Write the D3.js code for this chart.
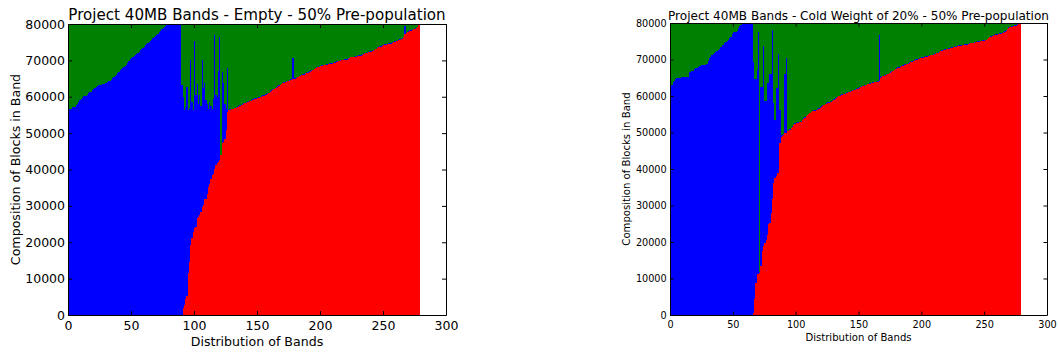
<!DOCTYPE html>
<html><head><meta charset="utf-8">
<script src="https://cdn.jsdelivr.net/npm/d3@7"></script>
<style>body{margin:0;background:#fff}svg{display:block}</style>
</head><body><svg id="c" width="1058" height="354"></svg>
<script>
const BAND_CAPACITY = 81920;
const xTicks = [0, 50, 100, 150, 200, 250, 300];
const yTicks = [0, 10000, 20000, 30000, 40000, 50000, 60000, 70000, 80000];
const leftTitle = "Project 40MB Bands - Empty - 50% Pre-population";
const rightTitle = "Project 40MB Bands - Cold Weight of 20% - 50% Pre-population";
const xLabel = "Distribution of Bands";
const yLabel = "Composition of Blocks in Band";
const seriesKeys = ["red", "blue", "green"];
const seriesColors = ["#ff0000", "#0000ff", "#008000"];

const leftRed = [
100,100,100,100,100,100,100,100,100,100,
100,100,100,100,100,100,100,100,100,100,
100,100,100,100,100,100,100,100,100,100,
100,100,100,100,100,100,100,100,100,100,
100,100,100,100,100,100,100,100,100,100,
100,100,100,100,100,100,100,100,100,100,
100,100,100,100,100,100,100,100,100,100,
100,100,100,100,100,100,100,100,100,100,
100,100,100,100,100,100,100,100,100,100,
100,
1900,2800,4500,5100,11500,14700,19300,21100,22900,23800,
24300,26600,27000,27500,28400,29800,30200,32000,32000,33400,
35200,36100,37500,38400,38900,40200,41100,41800,42000,42500,
43900,47300,47500,48500,50800,55800,56300,
56400,56500,56500,56600,56800,57000,57100,57300,57500,57600,
57800,58000,58200,58400,58500,58600,58800,58900,59100,59200,
59400,59500,59600,59700,59900,60000,60200,60300,60500,60600,
60800,61000,61300,61600,61900,62100,62300,62500,62800,63000,
63200,63400,63700,63900,64000,64100,64300,64400,64600,64700,
64800,64900,65000,65200,65400,65600,65800,65900,66000,66100,
66300,66500,66600,66800,66900,67100,67300,67600,67800,67900,
68100,68300,68400,68500,68600,68700,68700,68800,68900,69000,
69000,69100,69200,69300,69400,69600,69700,69800,69900,70000,
70000,70100,70200,70200,70400,70600,70800,70800,70900,70900,
71000,71100,71200,71300,71300,71500,71700,71800,72000,72100,
72200,72300,72400,72500,72600,72800,73100,73400,73600,73700,
73800,74000,74200,74300,74300,74400,74500,74500,74600,74800,
75000,75100,75300,75400,75500,75700,75800,75900,76300,77200,
77500,77700,77900,78100,78200,78400,78500,78700,78800,79100,79700
];

const leftBlue = [
56400,56400,56400,57000,57000,57000,57500,58000,58500,59000,
59200,59500,60000,60100,60100,60300,61000,61200,61300,61700,
62000,62300,62600,62800,63000,63100,63200,63400,63500,63700,
63800,64000,64100,64300,64500,65000,65300,65700,66000,66300,
66700,67200,67600,67800,68000,68400,68700,69200,69700,70200,
70600,70800,71000,71300,71600,71800,72300,72800,73000,73300,
73600,74000,74300,74600,75000,75300,75600,76000,76300,76600,
76800,77200,77600,78000,78500,78900,79100,79400,79600,79800,
79900,80000,80200,81820,81820,81820,81820,81820,81820,81820,
63000,58000,53600,52600,57500,44900,42300,50700,37400,33500,
51400,36200,36900,31000,33000,29100,40200,32300,31800,27000,
24600,21300,22400,20000,18100,20600,36900,19400,18200,25000,
34000,0,19400,16200,9500,5700,12200,
150,150,150,150,150,150,150,150,150,150,
150,150,150,150,150,150,150,150,150,150,
150,150,150,150,150,150,150,150,150,150,
150,150,150,150,150,150,150,150,150,150,
150,150,150,150,150,150,150,150,150,150,
150,5900,150,150,150,150,150,150,150,150,
150,150,150,150,150,150,150,150,150,150,
150,150,150,150,150,150,150,150,150,150,
150,150,150,150,150,150,150,150,150,150,
150,150,150,150,150,150,150,150,150,150,
150,150,150,150,150,150,150,150,150,150,
150,150,150,150,150,150,150,150,150,150,
150,150,150,150,150,150,150,150,150,150,
150,150,150,150,150,150,150,150,150,150,
2200,150,150,150,150,150,150,150,150,150,
150,150
];

const rightRed = [
100,100,100,100,100,100,100,100,100,100,
100,100,100,100,100,100,100,100,100,100,
100,100,100,100,100,100,100,100,100,100,
100,100,100,100,100,100,100,100,100,100,
100,100,100,100,100,100,100,100,100,100,
100,100,100,100,100,100,100,100,100,100,
100,100,100,100,100,100,
500,4500,8800,11100,11200,11500,13300,17500,18800,19700,
20500,22000,25000,25200,27900,31700,36300,37500,38200,38800,
39000,47100,48900,49100,49400,49800,50000,50300,
50300,50800,51200,51600,52000,52400,52500,52600,52700,52800,
53000,53300,53700,54100,54400,54700,55000,55300,55600,55800,
55900,56000,56100,56300,56500,56700,57000,57300,57500,57700,
57900,58100,58200,58300,58400,58600,58900,59200,59500,59700,
59900,60100,60300,60400,60500,60600,60700,60900,61000,61200,
61300,61500,61600,61700,61800,62000,62200,62400,62500,62700,
62800,62900,63000,63200,63300,63400,63500,63600,63700,63800,
63800,63900,64100,65000,65200,65400,65500,65700,65800,66000,
66200,66400,66600,66800,67100,67300,67500,67700,67800,68000,
68200,68300,68500,68600,68700,68900,69100,69300,69400,69500,
69700,69900,70000,70100,70200,70300,70400,70500,70600,70700,
70800,70900,71000,71100,71200,71300,71400,71500,71700,71800,
72000,72200,72400,72500,72600,72700,72800,72900,73000,73100,
73200,73300,73400,73500,73600,73700,73700,73800,73900,73900,
74000,74000,74100,74200,74300,74400,74500,74500,74600,74700,
74800,74900,74900,75000,75100,75100,75200,75300,75500,75800,
76100,76300,76400,76500,76600,76700,76800,76900,77000,77100,
77200,77300,77600,77900,78300,78700,78800,78900,79000,79100,
79200,79300,79500,79700,79900
];

const rightBlue = [
62000,63000,63800,64000,64600,64700,64800,64900,64900,65000,
65000,65100,65100,65200,65200,66400,66600,66700,66800,67200,
67500,67700,67900,68100,68200,68300,68300,68300,68300,68600,
69500,70300,70700,71000,71300,71600,72000,72200,72500,72900,
73300,73800,74000,74300,74700,74900,75300,75700,76200,76800,
77300,77400,77500,77700,78500,79200,79400,79600,79800,79900,
80000,81820,81820,81820,81820,81820,
68700,60100,55800,56100,66200,300,49200,45000,55000,38900,
38100,41500,38500,40700,38000,46500,21800,15800,24000,23400,
32500,9200,300,200,200,16100,20300,200,
150,150,150,150,150,150,150,150,150,150,
150,150,150,150,150,150,150,150,150,150,
150,150,150,150,150,150,150,150,150,150,
150,150,150,150,150,150,150,150,150,150,
150,150,150,150,150,150,150,150,150,150,
150,150,150,150,150,150,150,150,150,150,
150,150,150,150,150,150,150,150,150,150,
150,150,12500,150,150,150,150,150,150,150,
150,150,150,150,150,150,150,150,150,150,
150,150,150,150,150,150,150,150,150,150,
150,150,150,150,150,150,150,150,150,150,
150,150,150,150,150,150,150,150,150,150,
150,150,150,150,150,150,150,150,150,150,
150,150,150,150,150,150,150,150,150,150,
150,150,150,150,150,150,150,150,150,150,
150,150,150,150,150,150,150,150,150,150,
150,150,150,150,150,150,150,150,150,150,
150,150,150,150,150,150,150,150,150,150,
150,150,150,150,150
];

const FONT = "'DejaVu Sans', sans-serif";
const svg = d3.select("#c");

function drawPanel(red, blue, title, box, f) {
  const x = d3.scaleLinear().domain([0, 300]).range([box.left, box.right]);
  const y = d3.scaleLinear().domain([0, 80000]).range([box.bottom, box.top]);
  const rows = red.map((r, i) => ({
    band: i, red: r, blue: blue[i],
    green: Math.max(0, BAND_CAPACITY - r - blue[i])
  }));
  const stacked = d3.stack().keys(seriesKeys)(rows);
  const clipId = "clip" + box.left;
  svg.append("clipPath").attr("id", clipId).append("rect")
    .attr("x", box.left).attr("y", box.top)
    .attr("width", box.right - box.left).attr("height", box.bottom - box.top);
  const g = svg.append("g").attr("clip-path", `url(#${clipId})`).attr("shape-rendering", "crispEdges");
  stacked.forEach((s, k) => {
    g.append("g").attr("fill", seriesColors[k]).selectAll("rect").data(s).join("rect")
      .attr("x", d => x(d.data.band))
      .attr("width", d => x(d.data.band + 1) - x(d.data.band))
      .attr("y", d => y(d[1]))
      .attr("height", d => Math.max(0, y(d[0]) - y(d[1])));
  });

  const fmt = d3.format("d");
  const style = sel => {
    sel.attr("font-family", FONT).attr("font-size", f.tick).attr("color", "#000");
    sel.selectAll("text").attr("fill", "#000");
  };
  svg.append("g").attr("transform", `translate(0,${box.bottom})`)
    .call(d3.axisBottom(x).tickValues(xTicks).tickFormat(fmt).tickSize(-f.tl).tickSizeOuter(0).tickPadding(f.xpad)).call(style);
  svg.append("g").attr("transform", `translate(0,${box.top})`)
    .call(d3.axisTop(x).tickValues(xTicks).tickFormat("").tickSize(-f.tl).tickSizeOuter(0)).call(style);
  svg.append("g").attr("transform", `translate(${box.left},0)`)
    .call(d3.axisLeft(y).tickValues(yTicks).tickFormat(fmt).tickSize(-f.tl).tickSizeOuter(0).tickPadding(f.ypad)).call(style);
  svg.append("g").attr("transform", `translate(${box.right},0)`)
    .call(d3.axisRight(y).tickValues(yTicks).tickFormat("").tickSize(-f.tl).tickSizeOuter(0)).call(style);

  const cx = (box.left + box.right) / 2;
  svg.append("text").attr("x", cx).attr("y", f.titleY).attr("text-anchor", "middle")
    .attr("font-family", FONT).attr("font-size", f.title).text(title);
  svg.append("text").attr("x", cx).attr("y", f.xLabelY).attr("text-anchor", "middle")
    .attr("font-family", FONT).attr("font-size", f.label).text(xLabel);
  svg.append("text").attr("transform", `translate(${f.yLabelX},${(box.top + box.bottom) / 2}) rotate(-90)`)
    .attr("text-anchor", "middle").attr("font-family", FONT).attr("font-size", f.label).text(yLabel);
}

drawPanel(leftRed, leftBlue, leftTitle,
  {left: 68, right: 446, top: 24, bottom: 315},
  {tick: 12.5, label: 12.6, title: 15.1, tl: 4, xpad: 6, ypad: 3, titleY: 20, xLabelY: 346, yLabelX: 19.5});
drawPanel(rightRed, rightBlue, rightTitle,
  {left: 670, right: 1047, top: 23, bottom: 315},
  {tick: 9.7, label: 10.1, title: 12.05, tl: 3.5, xpad: 6, ypad: 3.3, titleY: 19.7, xLabelY: 341, yLabelX: 629.5});
</script>
</body></html>
